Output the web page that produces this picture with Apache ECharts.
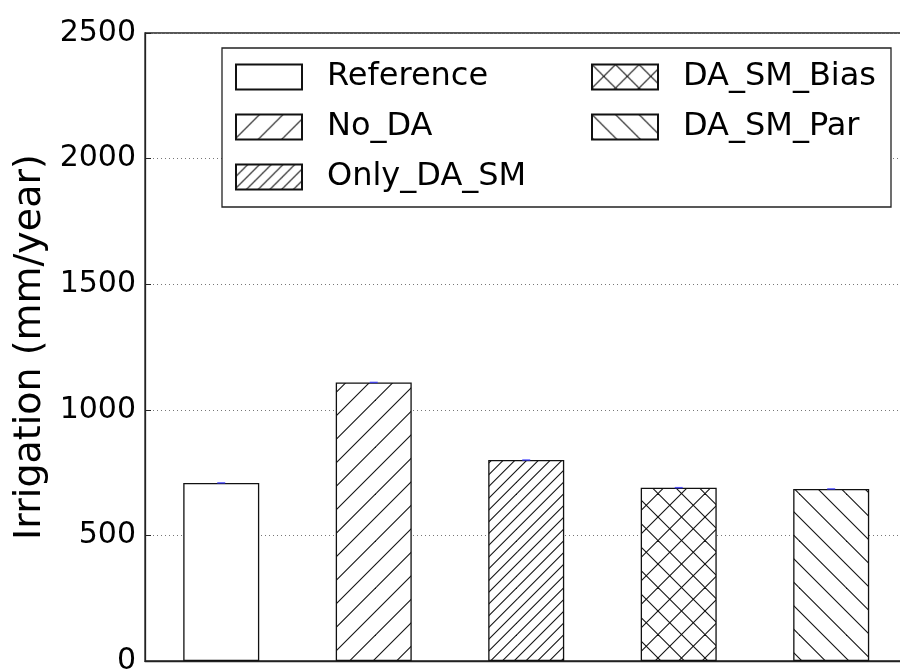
<!DOCTYPE html>
<html>
<head>
<meta charset="utf-8">
<script src="https://cdn.jsdelivr.net/npm/echarts@6/dist/echarts.min.js"></script>
<style>
html,body{margin:0;padding:0;background:#fff;}
#chart{width:900px;height:669px;}
</style>
</head>
<body>
<div id="chart"></div>
<script>
// ---- data ----
const categories = ['Reference', 'No_DA', 'Only_DA_SM', 'DA_SM_Bias', 'DA_SM_Par'];
const irrigation = [709, 1109, 800, 690, 685];
const hatches = ['', '/', '//', 'x', '\\'];
const yMin = 0, yMax = 2500, yInterval = 500;
const xMin = -0.5, xMax = 4.484;   // bar positions 0..4, right edge runs off the canvas
const yName = 'Irrigation (mm/year)';

const FONT = 'DejaVu Sans';

function hatchPattern(type) {
  const T = 47;
  const c = document.createElement('canvas');
  c.width = T; c.height = T;
  const ctx = c.getContext('2d');
  ctx.fillStyle = '#fff';
  ctx.fillRect(0, 0, T, T);
  ctx.strokeStyle = '#111';
  ctx.lineWidth = 1.1;
  function fwd(s) {
    for (let k = -2; k * s <= 2 * T + s; k++) {
      const cc = k * s;
      ctx.beginPath(); ctx.moveTo(cc + 1, -1); ctx.lineTo(cc - T - 1, T + 1); ctx.stroke();
    }
  }
  function back(s) {
    for (let k = -Math.ceil(T / s) - 2; k * s <= T + s; k++) {
      const cc = k * s;
      ctx.beginPath(); ctx.moveTo(cc - 1, -1); ctx.lineTo(cc + T + 1, T + 1); ctx.stroke();
    }
  }
  if (type === '/') fwd(23.5);
  else if (type === '//') fwd(11.75);
  else if (type === 'x') { fwd(23.5); back(23.5); }
  else if (type === '\\') back(23.5);
  return { image: c, repeat: 'repeat' };
}

const chart = echarts.init(document.getElementById('chart'), null, { renderer: 'canvas' });

const barSeries = categories.map((name, i) => ({
  name: name,
  type: 'bar',
  stack: 'all',
  barWidth: 76,
  data: [[i, irrigation[i]]],
  itemStyle: {
    color: hatches[i] ? hatchPattern(hatches[i]) : '#fff',
    borderColor: '#111',
    borderWidth: 1.3
  },
  emphasis: { disabled: true },
  z: 3
}));

const legendCommon = {
  orient: 'vertical',
  icon: 'rect',
  itemWidth: 66,
  itemHeight: 25,
  itemGap: 18,
  padding: 0,
  selectedMode: false,
  z: 10,
  textStyle: { fontFamily: FONT, fontSize: 32, color: '#000', lineHeight: 32, padding: [0, 0, 0, 20] }
};

chart.setOption({
  animation: false,
  backgroundColor: '#fff',
  grid: {
    left: 145, top: 33, width: 760, height: 628,
    outerBoundsMode: 'none',
    containLabel: false,
    show: true, borderColor: '#222', borderWidth: 1.3, backgroundColor: 'transparent'
  },
  graphic: [{
    type: 'rect',
    z: 6,
    shape: { x: 222, y: 48, width: 669, height: 159 },
    style: { fill: '#fff', stroke: '#222', lineWidth: 1.3 }
  }],
  legend: [
    Object.assign({}, legendCommon, { left: 235, top: 61, data: categories.slice(0, 3) }),
    Object.assign({}, legendCommon, { left: 591, top: 61, data: categories.slice(3) })
  ],
  xAxis: {
    type: 'value',
    min: xMin, max: xMax,
    axisLine: { show: true, onZero: false, lineStyle: { color: '#222', width: 1.3 } },
    axisTick: { show: false },
    axisLabel: { show: false },
    splitLine: { show: false }
  },
  yAxis: {
    type: 'value',
    min: yMin, max: yMax, interval: yInterval,
    name: yName,
    nameLocation: 'middle',
    nameGap: 86,
    nameTextStyle: { fontFamily: FONT, fontSize: 38, color: '#000' },
    axisLine: { show: true, onZero: false, lineStyle: { color: '#222', width: 1.3 } },
    axisTick: { show: true, inside: true, length: 6, lineStyle: { color: '#222' } },
    axisLabel: { fontFamily: FONT, fontSize: 30, color: '#000', margin: 9, formatter: v => String(v) },
    splitLine: {
      show: true,
      lineStyle: { color: '#777', type: [1, 3], width: 1 }
    }
  },
  series: barSeries.concat([{
    name: 'err',
    type: 'scatter',
    symbol: 'rect',
    symbolSize: [8, 1.5],
    itemStyle: { color: '#3333ff' },
    data: irrigation.map((v, i) => [i, v]),
    z: 5,
    silent: true
  }])
});
</script>
</body>
</html>
